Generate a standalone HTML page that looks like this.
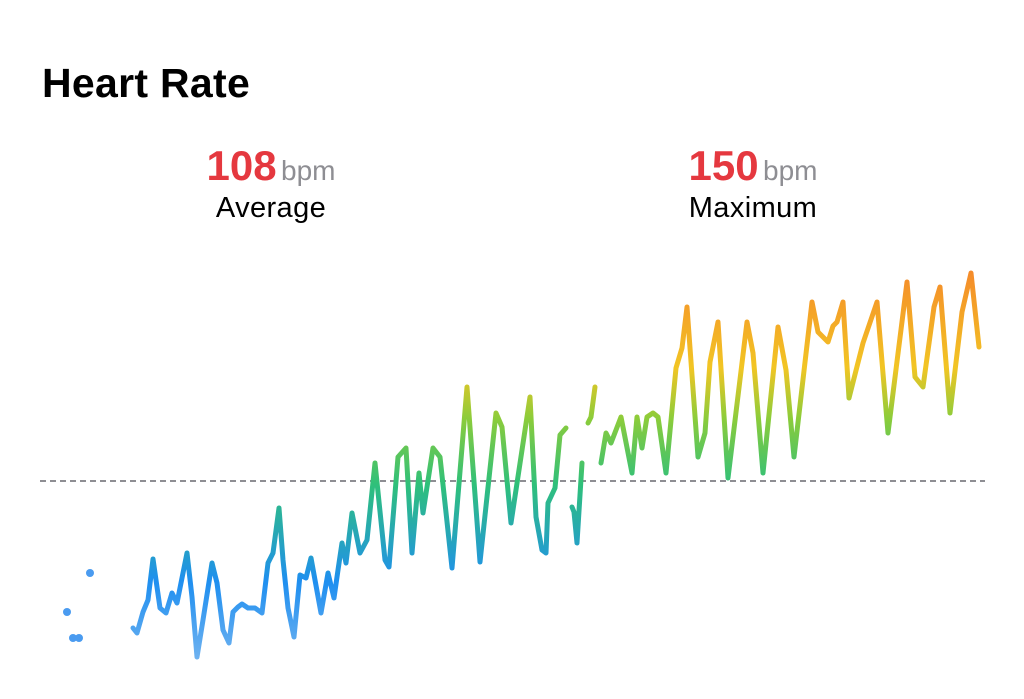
<!DOCTYPE html>
<html><head><meta charset="utf-8"><style>
body{margin:0;background:#fff;width:1024px;height:699px;overflow:hidden;font-family:"Liberation Sans",sans-serif}
.t{position:absolute;left:42px;top:60px;font-size:41px;font-weight:bold;color:#000;letter-spacing:0.3px}
.st{position:absolute;text-align:center;width:300px}
.v{font-size:42px;font-weight:bold;color:#e5383f}
.u{font-size:28px;color:#8e8e93}
.l{font-size:29px;color:#000;margin-top:2px;letter-spacing:0.4px}
</style></head><body>
<div class="t">Heart Rate</div>
<div class="st" style="left:121px;top:142px"><span class="v">108</span> <span class="u">bpm</span><div class="l">Average</div></div>
<div class="st" style="left:603px;top:142px"><span class="v">150</span> <span class="u">bpm</span><div class="l">Maximum</div></div>
<svg width="1024" height="699" style="position:absolute;left:0;top:0">
<defs><linearGradient id="g" gradientUnits="userSpaceOnUse" x1="0" y1="660" x2="0" y2="270">
<stop offset="0" stop-color="#6fb2f0"/><stop offset="0.2" stop-color="#1f8ff0"/><stop offset="0.45" stop-color="#2fc07a"/><stop offset="0.62" stop-color="#8ccc3a"/><stop offset="0.75" stop-color="#f2c524"/><stop offset="1" stop-color="#f58a2a"/></linearGradient></defs>
<line x1="40" y1="481" x2="985" y2="481" stroke="#8e8e93" stroke-width="2" stroke-dasharray="6,4"/>
<g fill="none" stroke="url(#g)" stroke-width="5" stroke-linejoin="round" stroke-linecap="round">
<polyline points="133,628 137,633 143,612 148,600 153,559 160,608 166,613 172,593 177,603 187,553 192,597 197,657 203,620 212,563 217,583 223,630 229,643 233,612 238,607 242,604 248,608 255,608 262,613 268,563 273,553 279,508 283,560 288,608 294,637 300,575 306,578 311,558 321,613 328,573 334,598 338,570 342,543 346,563 352,513 360,553 367,540 375,463 385,560 389,567 398,457 406,448 412,553 419,473 423,513 433,448 440,457 452,568 467,387 480,562 496,413 502,427 511,523 530,397 536,517 542,550 546,553 548,503 555,488 560,435 566,428"/>
<polyline points="572,507 574,512 577,543 582,463"/>
<polyline points="588,423 591,417 595,387"/>
<polyline points="601,463 606,433 611,443 621,417 632,473 637,417 642,448 647,417 653,413 658,417 666,473 676,368 682,348 687,307 698,457 705,433 710,362 718,322 728,478 747,322 753,353 763,473 778,327 786,370 794,457 812,302 818,332 828,342 833,326 837,322 843,302 849,398 863,343 877,302 888,433 907,282 915,377 923,387 934,307 940,287 950,413 962,312 971,273 979,347"/>
</g>
<g fill="#4a9bf0"><circle cx="67" cy="612" r="4"/><circle cx="73" cy="638" r="4"/><circle cx="79" cy="638" r="4"/><circle cx="90" cy="573" r="4"/></g>
</svg>
</body></html>
